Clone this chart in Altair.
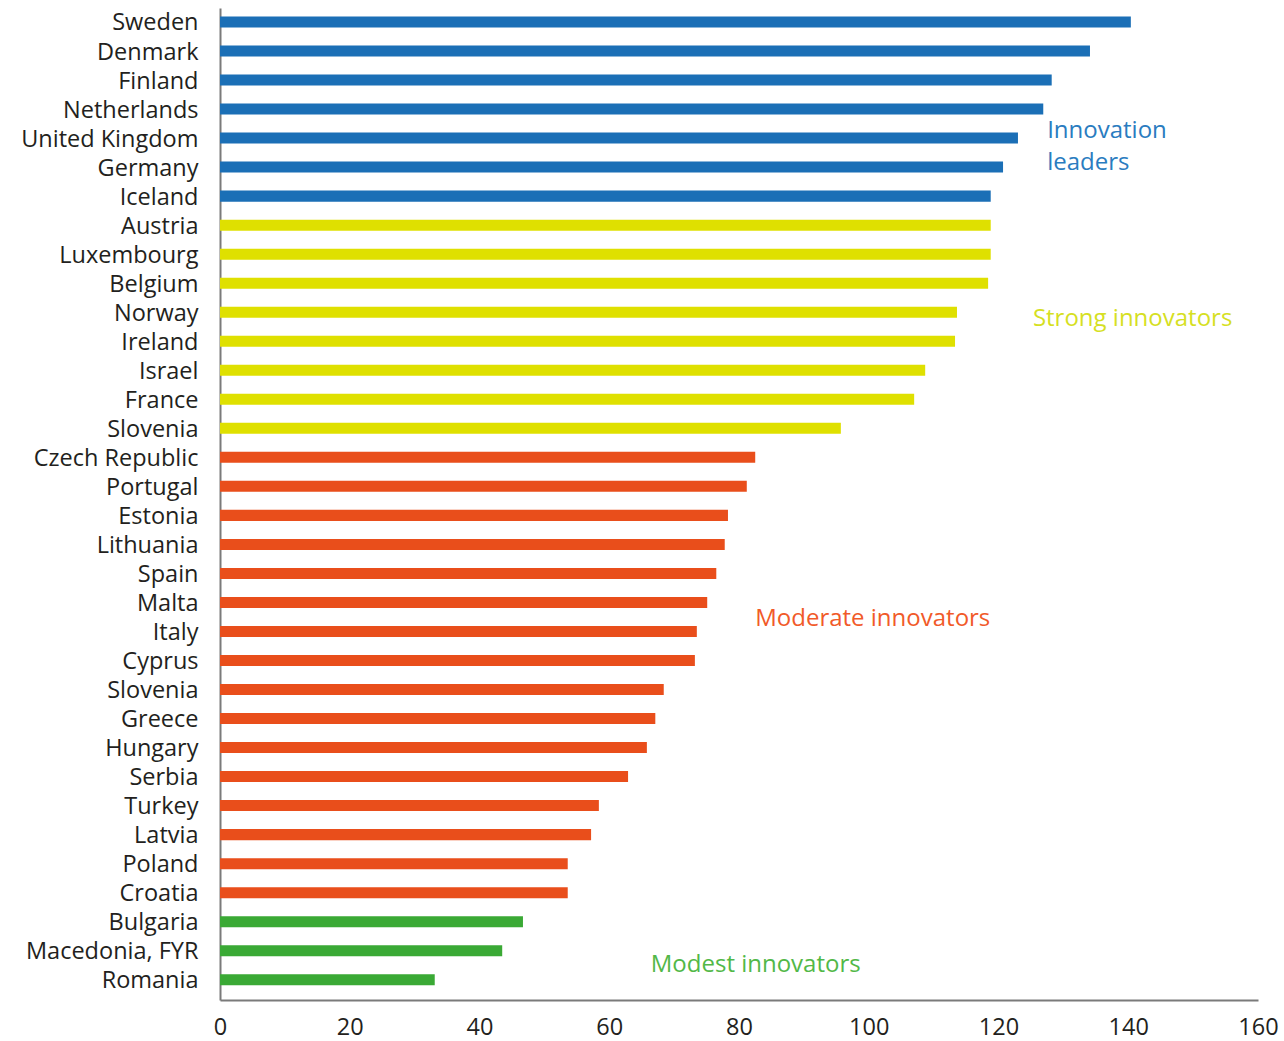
import altair as alt
import pandas as pd

# Summary innovation index by country, top to bottom
countries = [
    "Sweden", "Denmark", "Finland", "Netherlands", "United Kingdom", "Germany",
    "Iceland", "Austria", "Luxembourg", "Belgium", "Norway", "Ireland", "Israel",
    "France", "Slovenia", "Czech Republic", "Portugal", "Estonia", "Lithuania",
    "Spain", "Malta", "Italy", "Cyprus", "Slovenia", "Greece", "Hungary",
    "Serbia", "Turkey", "Latvia", "Poland", "Croatia", "Bulgaria",
    "Macedonia, FYR", "Romania",
]
scores = [
    140.4, 134.1, 128.2, 126.9, 123.0, 120.7,
    118.8, 118.8, 118.8, 118.4, 113.6, 113.3, 108.7,
    107.0, 95.7, 82.5, 81.2, 78.3, 77.8,
    76.5, 75.1, 73.5, 73.2, 68.4, 67.1, 65.8,
    62.9, 58.4, 57.2, 53.6, 53.6, 46.7,
    43.5, 33.1,
]
groups = (
    ["Innovation leaders"] * 7
    + ["Strong innovators"] * 8
    + ["Moderate innovators"] * 16
    + ["Modest innovators"] * 3
)

group_names = ["Innovation leaders", "Strong innovators", "Moderate innovators", "Modest innovators"]
bar_colors = ["#1b6fb6", "#dfe000", "#e94e1b", "#3aa935"]
text_colors = ["#2a7cc0", "#d6df23", "#f15a29", "#52b848"]

# Group captions: text, x in index units, y in pixels from the plot top
caption_text = ["Innovation", "leaders", "Strong innovators", "Moderate innovators", "Modest innovators"]
caption_group = ["Innovation leaders", "Innovation leaders", "Strong innovators", "Moderate innovators", "Modest innovators"]
caption_x = [127.5, 127.5, 125.3, 82.5, 66.4]
caption_y = [123, 155, 311, 611, 957]

bars_df = pd.DataFrame({
    "rank": list(range(len(countries))),
    "country": countries,
    "score": scores,
    "group": groups,
})
caps_df = pd.DataFrame({
    "text": caption_text,
    "group": caption_group,
    "cx": caption_x,
    "cy": caption_y,
})

FONT = "Open Sans"
label_expr = "[" + ",".join("'" + c + "'" for c in countries) + "][datum.value]"

x_scale = alt.Scale(domain=[0, 160], nice=False, zero=True)

bars = alt.Chart(bars_df).mark_bar().encode(
    x=alt.X(
        "score:Q",
        scale=x_scale,
        axis=alt.Axis(
            values=[0, 20, 40, 60, 80, 100, 120, 140, 160],
            title=None,
            grid=False,
            ticks=False,
            domainColor="#7a7a7a",
            domainWidth=2,
            labelFont=FONT,
            labelFontSize=23.5,
            labelColor="#231f20",
            labelPadding=15,
            labelFlush=False,
        ),
    ),
    y=alt.Y(
        "rank:O",
        sort="ascending",
        scale=alt.Scale(paddingInner=0.62, paddingOuter=0.4, align=0.365),
        axis=alt.Axis(
            title=None,
            ticks=False,
            domainColor="#7a7a7a",
            domainWidth=2,
            labelExpr=label_expr,
            labelFont=FONT,
            labelFontSize=23.5,
            labelColor="#231f20",
            labelPadding=22,
            labelOffset=1.5,
            labelLimit=300,
        ),
    ),
    color=alt.Color(
        "group:N",
        scale=alt.Scale(domain=group_names, range=bar_colors),
        legend=None,
    ),
)

captions = alt.Chart(caps_df).mark_text(
    align="left", baseline="middle", font=FONT, fontSize=24,
).encode(
    x=alt.X("cx:Q", scale=x_scale),
    y=alt.Y("cy:Q", scale=None),
    text="text:N",
    color=alt.Color(
        "group:N",
        scale=alt.Scale(domain=group_names, range=text_colors),
        legend=None,
    ),
)

chart = (
    alt.layer(bars, captions)
    .resolve_scale(color="independent")
    .properties(
        width=1038,
        height=992,
        autosize=alt.AutoSizeParams(type="none"),
        padding={"left": 220, "top": 8, "right": 26, "bottom": 41},
        background="white",
    )
    .configure_view(stroke=None)
)

chart.save("out.html", embed_options={"renderer": "svg", "actions": False})
